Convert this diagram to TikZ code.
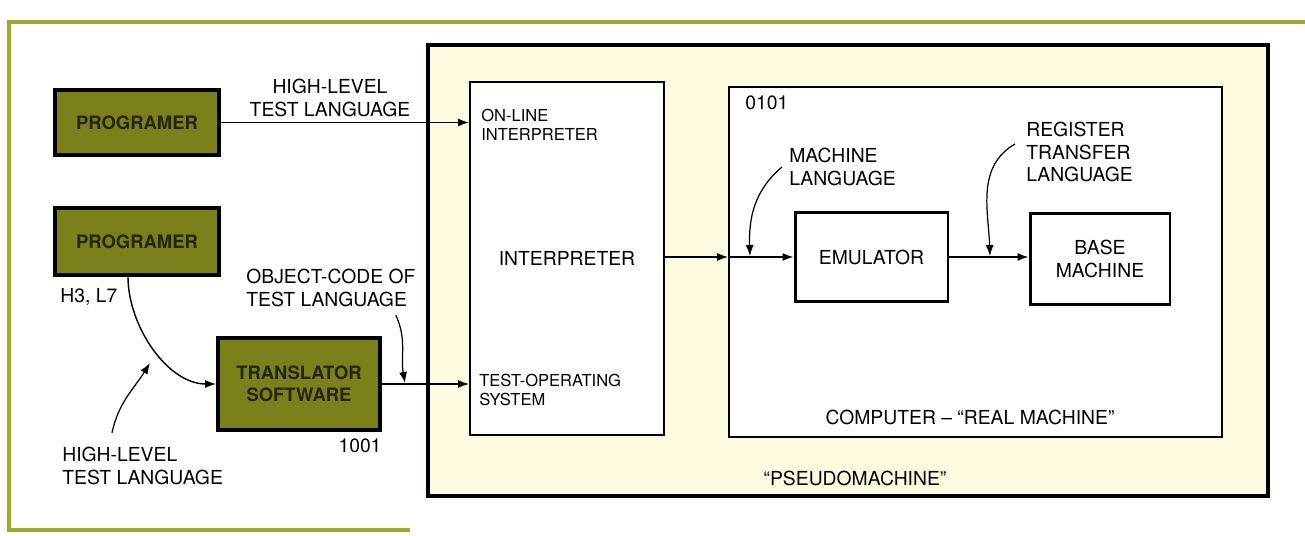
\documentclass[tikz,border=0pt]{standalone}
\usepackage{fontspec}
\setmainfont{TeX Gyre Heros}
\usepackage{tikz}
\usetikzlibrary{arrows.meta,positioning,calc}
\definecolor{olivebox}{RGB}{122,128,26}
\definecolor{olivetext}{RGB}{36,38,10}
\definecolor{cream}{RGB}{255,251,224}
\definecolor{framegreen}{RGB}{158,170,48}

\begin{document}
\begin{tikzpicture}[x=0.02cm,y=0.02cm,>={Latex[length=2.2mm,width=1.6mm]},
  font=\fontsize{11}{13}\selectfont,
  gbox/.style={draw=black,line width=2.2pt,fill=olivebox,text=olivetext,align=center,
    font=\fontsize{10.5}{12.5}\selectfont\bfseries},
  wbox/.style={draw=black,line width=1.7pt,fill=white,align=center},
  pane/.style={draw=black,line width=1.1pt,fill=white},
  lbl/.style={align=left,inner sep=0pt},
  sm/.style={lbl,font=\fontsize{9.4}{11}\selectfont},
  ln/.style={->,line width=0.8pt},
  ptr/.style={->,line width=0.7pt}]
\useasboundingbox (0,0) rectangle (1305,535);
\draw[framegreen,line width=1.8pt] (1305,513) -- (9,513) -- (9,5) -- (410,5);
% pseudomachine and its parts
\node[draw=black,line width=2.3pt,fill=cream,minimum width=16.8cm,minimum height=9.02cm] (pseudo) at (848,264.5) {};
\node[pane,minimum width=3.88cm,minimum height=7.06cm] (interp) at (567,276.5) {INTERPRETER};
\node[pane,minimum width=9.86cm,minimum height=7.0cm] (comp) at (975.5,273) {};
\node[wbox,minimum width=3.06cm,minimum height=1.8cm] (emu) at (871.5,278) {EMULATOR};
\node[wbox,minimum width=2.8cm,minimum height=1.84cm] (base) at (1100,276) {BASE\\MACHINE};
% outside boxes
\node[gbox,minimum width=3.28cm,minimum height=1.3cm] (prog1) at (137,412.5) {PROGRAMER};
\node[gbox,minimum width=3.28cm,minimum height=1.34cm] (prog2) at (137,293.5) {PROGRAMER};
\node[gbox,minimum width=3.24cm,minimum height=1.84cm] (trans) at (299,151) {TRANSLATOR\\SOFTWARE};
% labels
\node[align=center,inner sep=0pt] (hl1) at (330,437) {HIGH-LEVEL\\TEST LANGUAGE};
\node[sm,anchor=west] (online) at (481,410) {ON-LINE\\INTERPRETER};
\node[sm,anchor=west] (testop) at (479,145) {TEST-OPERATING\\SYSTEM};
\node[lbl,anchor=west] (n0101) at (745,432) {0101};
\node[lbl,anchor=west] (ml) at (789,368) {MACHINE\\LANGUAGE};
\node[lbl,anchor=west] (rtl) at (1026,383) {REGISTER\\TRANSFER\\LANGUAGE};
\node[lbl] (comptext) at (970,118) {COMPUTER -- ``REAL MACHINE''};
\node[lbl] (pseudotext) at (855,57) {``PSEUDOMACHINE''};
\node[lbl,anchor=west] (h3) at (60,238) {H3, L7};
\node[lbl,anchor=west] (hl2) at (62,69) {HIGH-LEVEL\\TEST LANGUAGE};
\node[lbl,anchor=west] (ocode) at (246,247) {OBJECT-CODE OF\\TEST LANGUAGE};
\node[lbl] (n1001) at (360,89) {1001};
% flow
\coordinate (cin) at (comp.west |- emu.west);
\coordinate (mlhit) at (750,279);
\coordinate (rthit) at (990,279);
\coordinate (hlhit) at (150,172);
\coordinate (ochit) at (405,152);
\draw[ln] (prog1.east) -- (prog1.east -| interp.west);
\draw[ln] (trans.east) -- (trans.east -| interp.west);
\draw[ln] (interp.east |- emu.west) -- (cin);
\draw[ln] (cin) -- (emu.west);
\draw[ln] (emu.east) -- (emu.east -| base.west);
\draw[ln] ($(prog2.south)+(-9,0)$) to[out=-90,in=180,looseness=0.9] (trans.west);
% pointers
\draw[ptr] ($(ml.west)+(-7,0)$) to[out=220,in=92] (mlhit);
\draw[ptr] ($(rtl.west)+(-11,8)$) to[out=210,in=92] (rthit);
\draw[ptr] ($(hl2.north west)+(50,14)$) to[out=78,in=238] (hlhit);
\draw[ptr] ($(ocode.south east)+(-20,-8)$) to[out=-65,in=100] (ochit);
\end{tikzpicture}
\end{document}
